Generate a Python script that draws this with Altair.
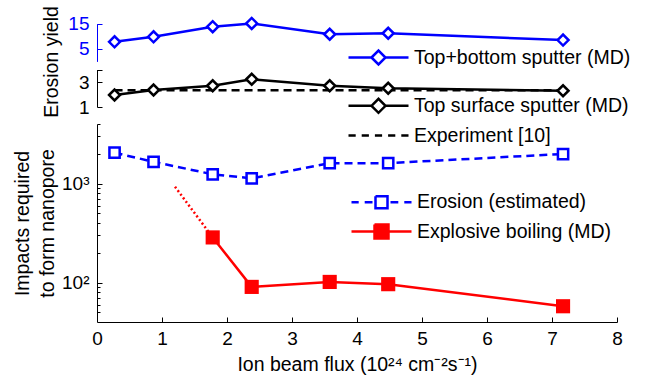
import altair as alt
import pandas as pd

# ---------------- data ----------------
flux = [0.27, 0.87, 1.78, 2.38, 3.58, 4.48, 7.17]
top_bottom = [7.8, 9.8, 13.8, 15.1, 10.8, 11.2, 8.5]
top_surface = [1.96, 2.36, 2.70, 3.22, 2.70, 2.50, 2.30]
exp_flux = [0.27, 7.17]
exp_yield = [2.35, 2.35]
erosion = [2050, 1660, 1240, 1130, 1610, 1610, 1990]
boil_flux = [1.78, 2.38, 3.58, 4.48, 7.17]
boil = [286, 90.5, 101.6, 96.4, 57.7]
extrap_flux = [1.2, 1.78]
extrap = [930, 286]

x_ticks = [0, 1, 2, 3, 4, 5, 6, 7, 8]
blue_ticks = [5, 15]
black_ticks = [1, 3]
log_major = [100, 1000]
log_minor = [50, 60, 70, 80, 90, 200, 300, 400, 500, 600, 700, 800, 900,
             2000, 3000, 4000]

L_TB = "Top+bottom sputter (MD)"
L_TS = "Top surface sputter (MD)"
L_EXP = "Experiment [10]"
L_ERO = "Erosion (estimated)"
L_BOIL = "Explosive boiling (MD)"

BLUE = "#0000ff"
RED = "#ff0000"
BLACK = "#000000"
FONT = "Liberation Sans"
FS = 19
FST = 19.5


def frame(xs, ys, lab):
    return pd.DataFrame({"x": xs, "y": ys, "lab": [lab] * len(xs)})


df_tb = frame(flux, top_bottom, L_TB)
df_ts = frame(flux, top_surface, L_TS)
df_exp = frame(exp_flux, exp_yield, L_EXP)
df_ero = frame(flux, erosion, L_ERO)
df_boil = frame(boil_flux, boil, L_BOIL)
df_extrap = frame(extrap_flux, extrap, "extrap")

# ---------------- scales ----------------
def xscale():
    return alt.Scale(domain=[0, 8], nice=False, zero=False)

s_blue = dict(domain=[0, 15], range=[41.4, 3.7], nice=False, zero=False)
s_black = dict(domain=[1, 4], range=[87, 49.5], nice=False, zero=False)
s_log = dict(type="log", domain=[40, 4000], range=[302, 104], nice=False)


def main_y(values, color, title=None, **kw):
    args = dict(orient="left", values=values, ticks=False, tickSize=0,
                domainColor=color, domainWidth=1, labelColor=color,
                labelFontSize=FS, labelPadding=8, grid=False,
                labelOverlap=False, title=title)
    args.update(kw)
    return alt.Axis(**args)


def tick_y(values, color, size):
    return alt.Axis(orient="left", values=values, domain=False, labels=False,
                    ticks=True, tickSize=size, tickColor=color, tickWidth=1,
                    offset=-size, grid=False, title=None)


def enc(scale, axis=None, xaxis=None):
    return dict(
        x=alt.X("x:Q", scale=xscale(), axis=xaxis),
        y=alt.Y("y:Q", scale=alt.Scale(**scale), axis=axis),
    )


def legend(x, y, path, stroke, fill):
    return alt.Legend(orient="none", legendX=x, legendY=y, title=None,
                      padding=0, labelFontSize=FST, labelColor=BLACK,
                      labelFont=FONT, labelOffset=4, labelLimit=500,
                      symbolType=path,
                      symbolSize=3600, symbolStrokeWidth=2.5,
                      symbolStrokeColor=stroke, symbolFillColor=fill,
                      symbolOpacity=1, symbolDash=[1000, 0])


def color(lab, c, leg):
    return alt.Color("lab:N", scale=alt.Scale(domain=[lab], range=[c]),
                     legend=leg)


P_DIAMOND = "M-1,0H-0.233M0.233,0H1M-0.233,0L0,-0.233L0.233,0L0,0.233Z"
P_DASH = ("M-1,0H-0.76M-0.56,0H-0.32M-0.12,0H0.12M0.32,0H0.56M0.76,0H1")
P_ERO = ("M-1,0H-0.76M-0.56,0H-0.3M0.3,0H0.56M0.76,0H1"
         "M-0.2,-0.2H0.2V0.2H-0.2Z")
P_BOIL = "M-1,0H1M-0.233,-0.233H0.233V0.233H-0.233Z"

main_x = alt.Axis(orient="bottom", values=x_ticks, ticks=False, tickSize=0,
                  domainColor=BLACK, domainWidth=1, labelFontSize=FS,
                  labelPadding=7, labelColor=BLACK, labelFlush=False,
                  labelOverlap=False, format="d", grid=False,
                  title="Ion beam flux (10²⁴ cm⁻²s⁻¹)", titleFontSize=FST,
                  titlePadding=7, titleColor=BLACK)
tick_x = alt.Axis(orient="bottom", values=x_ticks[1:], domain=False,
                  labels=False, ticks=True, tickSize=5, tickColor=BLACK,
                  offset=-5, grid=False, title=None)

# ---------------- layers ----------------
exp_layer = alt.Chart(df_exp).mark_line(strokeWidth=2.5, strokeDash=[8, 5]).encode(
    **enc(s_black, main_y(black_ticks, BLACK, title="Erosion yield",
                          titleX=-36, titleY=41.5, titleFontSize=FST,
                          titleColor=BLACK)),
    color=color(L_EXP, BLACK, legend(250, 84, P_DASH, BLACK, "transparent")),
)
ts_line = alt.Chart(df_ts).mark_line(strokeWidth=2.5, color=BLACK).encode(
    **enc(s_black, tick_y([1, 3, 4], BLACK, 5)))
ts_pts = alt.Chart(df_ts).mark_point(shape="diamond", size=121, filled=False,
                                     fill="white", fillOpacity=1,
                                     strokeWidth=2.5, opacity=1).encode(
    **enc(s_black),
    color=color(L_TS, BLACK, legend(250, 54.3, P_DIAMOND, BLACK, "white")),
)
tb_line = alt.Chart(df_tb).mark_line(strokeWidth=2.5, color=BLUE).encode(
    **enc(s_blue, main_y(blue_ticks, BLUE)))
tb_pts = alt.Chart(df_tb).mark_point(shape="diamond", size=121, filled=False,
                                     fill="white", fillOpacity=1,
                                     strokeWidth=2.5, opacity=1).encode(
    **enc(s_blue, tick_y(blue_ticks, BLUE, 5)),
    color=color(L_TB, BLUE, legend(250, 6, P_DIAMOND, BLUE, "white")),
)
ero_line = alt.Chart(df_ero).mark_line(strokeWidth=2.5, color=BLUE,
                                       strokeDash=[8, 5]).encode(
    **enc(s_log, main_y(log_major, BLACK,
                        title=["Impacts required", "to form nanopore"],
                        labelExpr="datum.value == 100 ? '10²' : '10³'",
                        titleX=-65, titleY=203, titleFontSize=FST,
                        titleColor=BLACK, titleLineHeight=25),
          xaxis=main_x))
ero_pts = alt.Chart(df_ero).mark_point(shape="square", size=105, filled=False,
                                       fill="white", fillOpacity=1,
                                       strokeWidth=2.5, opacity=1).encode(
    **enc(s_log, tick_y(log_major, BLACK, 5), xaxis=tick_x),
    color=color(L_ERO, BLUE, legend(253, 150.7, P_ERO, BLUE, "white")),
)
extrap_layer = alt.Chart(df_extrap).mark_line(strokeWidth=2.5, color=RED,
                                              strokeDash=[2, 2.5]).encode(
    **enc(s_log, tick_y(log_minor, BLACK, 3)))
boil_line = alt.Chart(df_boil).mark_line(strokeWidth=2.5, color=RED).encode(
    **enc(s_log))
boil_pts = alt.Chart(df_boil).mark_point(shape="square", size=200, filled=True,
                                         opacity=1).encode(
    **enc(s_log),
    color=color(L_BOIL, RED, legend(253, 180, P_BOIL, RED, RED)),
)

chart = alt.layer(
    exp_layer, ts_line, ts_pts, tb_line, tb_pts,
    ero_line, ero_pts, extrap_layer, boil_line, boil_pts,
).resolve_scale(
    x="independent", y="independent", color="independent"
).properties(
    width=520, height=302,
    autosize=alt.AutoSizeParams(type="none"),
    padding={"left": 97, "top": 20, "right": 28, "bottom": 56},
).configure(
    font=FONT
).configure_view(
    stroke=None
).configure_axis(
    labelFont=FONT, titleFont=FONT, titleFontWeight="normal", grid=False
).configure_legend(
    labelFont=FONT
)

chart.save("out.html", embed_options={"renderer": "svg", "actions": False})
